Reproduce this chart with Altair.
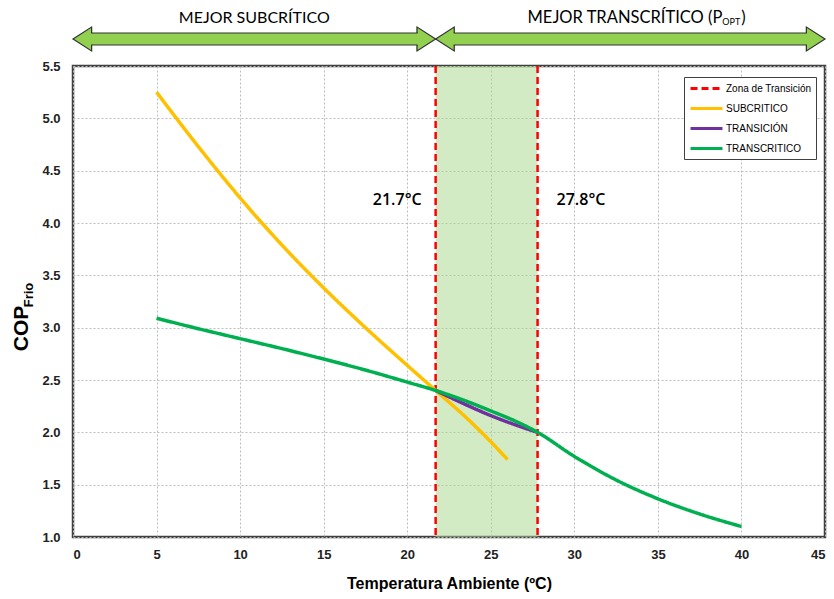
import altair as alt
import pandas as pd

# ---------------- data ----------------
series_names = ["Zona de Transición", "SUBCRITICO", "TRANSICIÓN", "TRANSCRITICO"]
series_colors = ["#FF0000", "#FFC000", "#7030A0", "#00B050"]
series_dash = [[7, 4], [1, 0], [1, 0], [1, 0]]

temp_sub = [5, 7.5, 10, 12.5, 15, 17.5, 20, 21.7, 23.5, 25, 26]
cop_sub = [5.25, 4.73, 4.24, 3.79, 3.38, 3.00, 2.64, 2.40, 2.145, 1.91, 1.74]

temp_tra = [21.7, 23.5, 25, 26.5, 27.8]
cop_tra = [2.40, 2.265, 2.16, 2.07, 2.00]

temp_trans = [5, 7.5, 10, 12.5, 15, 17.5, 20, 21.7, 23.5, 25, 26.5, 27.8, 30, 32.5, 35, 37.5, 40]
cop_trans = [3.09, 2.99, 2.895, 2.80, 2.70, 2.595, 2.48, 2.40, 2.30, 2.205, 2.105, 2.00,
             1.77, 1.545, 1.365, 1.22, 1.10]

transition_temps = [21.7, 27.8]
x_ticks = [0, 5, 10, 15, 20, 25, 30, 35, 40, 45]
y_ticks = [1.0, 1.5, 2.0, 2.5, 3.0, 3.5, 4.0, 4.5, 5.0, 5.5]

zone_start = [0, 21.7]
zone_end = [21.7, 45]
zone_texts = ["MEJOR SUBCRÍTICO", "MEJOR TRANSCRÍTICO (P"]
zone_sub_text = "OPT"

# ---------------- tables ----------------
lines_df = pd.concat([
    pd.DataFrame({"T": temp_sub, "COP": cop_sub, "serie": series_names[1]}),
    pd.DataFrame({"T": temp_tra, "COP": cop_tra, "serie": series_names[2]}),
    pd.DataFrame({"T": temp_trans, "COP": cop_trans, "serie": series_names[3]}),
], ignore_index=True)

rules_df = pd.DataFrame({"T": transition_temps, "serie": series_names[0],
                         "label": [f"{t:.1f}°C" for t in transition_temps]})
band_df = pd.DataFrame({"t1": [transition_temps[0]], "t2": [transition_temps[1]]})
zones_df = pd.DataFrame({"start": zone_start, "end": zone_end, "txt": zone_texts})
zones_df["mid"] = (zones_df["start"] + zones_df["end"]) / 2

NARROW = "Liberation Sans Narrow, Arial Narrow, Liberation Sans, sans-serif"

x_scale = alt.Scale(domain=[0, 45], nice=False, zero=False)
y_scale = alt.Scale(domain=[1.0, 5.5], nice=False, zero=False)

legend = alt.Legend(
    orient="none", legendX=611, legendY=11, title=None,
    symbolType="M-0.83,0L4.5,0", symbolSize=144, symbolStrokeWidth=3,
    labelOffset=23, rowPadding=6, padding=4,
    strokeColor="#404040", fillColor="white",
    labelFont=NARROW, labelFontSize=10, labelColor="#000000",
)
color_enc = alt.Color("serie:N", scale=alt.Scale(domain=series_names, range=series_colors), legend=legend)
dash_enc = alt.StrokeDash("serie:N", scale=alt.Scale(domain=series_names, range=series_dash), legend=legend)

x_enc = alt.X("T:Q", scale=x_scale,
              axis=alt.Axis(values=x_ticks, title="Temperatura Ambiente (ºC)", format="d"))
y_enc = alt.Y("COP:Q", scale=y_scale,
              axis=alt.Axis(values=y_ticks, format=".1f", title="COP",
                            titleX=-52, titleY=262, titleAngle=270,
                            titleAlign="center", titleBaseline="middle",
                            titleFontSize=21))

# ---------------- layers ----------------
band = alt.Chart(band_df).mark_rect(fill="#a8d88a", opacity=0.5).encode(
    x=alt.X("t1:Q", scale=x_scale), x2="t2:Q",
    y=alt.datum(5.5), y2=alt.datum(1.0))

lines = alt.Chart(lines_df).mark_line(strokeWidth=3.5, interpolate="monotone").encode(
    x=x_enc, y=y_enc, color=color_enc, strokeDash=dash_enc)

rules = alt.Chart(rules_df).mark_rule(strokeWidth=2.5).encode(
    x=alt.X("T:Q", scale=x_scale), color=color_enc, strokeDash=dash_enc)

txt_left = alt.Chart(rules_df.iloc[[0]]).mark_text(
    align="right", dx=-14, font="Open Sans", fontSize=16, fontWeight=600, color="#000000"
).encode(x=alt.X("T:Q", scale=x_scale), y=alt.datum(4.22), text="label:N")
txt_right = alt.Chart(rules_df.iloc[[1]]).mark_text(
    align="left", dx=19, font="Open Sans", fontSize=16, fontWeight=600, color="#000000"
).encode(x=alt.X("T:Q", scale=x_scale), y=alt.datum(4.22), text="label:N")

# arrows above the plot
ARROW_FILL = "#92D050"
ARROW_EDGE = "#333333"
shaft = alt.Chart(zones_df).mark_rect(fill=ARROW_FILL, xOffset=18, x2Offset=-18).encode(
    x=alt.X("start:Q", scale=x_scale), x2="end:Q", y=alt.value(-33), y2=alt.value(-21))
edge_top = alt.Chart(zones_df).mark_rule(stroke=ARROW_EDGE, strokeWidth=1.2, xOffset=18, x2Offset=-18).encode(
    x=alt.X("start:Q", scale=x_scale), x2="end:Q", y=alt.value(-33))
edge_bot = alt.Chart(zones_df).mark_rule(stroke=ARROW_EDGE, strokeWidth=1.2, xOffset=18, x2Offset=-18).encode(
    x=alt.X("start:Q", scale=x_scale), x2="end:Q", y=alt.value(-21))

HEAD_SIZE = 576
head_l_fill = alt.Chart(zones_df).mark_point(
    shape="M0,0L1.6,-1L1.6,1Z", filled=True, fill=ARROW_FILL, strokeWidth=0, opacity=1, size=HEAD_SIZE
).encode(x=alt.X("start:Q", scale=x_scale), y=alt.value(-27))
head_r_fill = alt.Chart(zones_df).mark_point(
    shape="M0,0L-1.6,-1L-1.6,1Z", filled=True, fill=ARROW_FILL, strokeWidth=0, opacity=1, size=HEAD_SIZE
).encode(x=alt.X("end:Q", scale=x_scale), y=alt.value(-27))
head_l_edge = alt.Chart(zones_df).mark_point(
    shape="M1.55,-0.5L1.55,-1L0,0L1.55,1L1.55,0.5", filled=False, stroke=ARROW_EDGE,
    strokeWidth=1.2, opacity=1, size=HEAD_SIZE
).encode(x=alt.X("start:Q", scale=x_scale), y=alt.value(-27))
head_r_edge = alt.Chart(zones_df).mark_point(
    shape="M-1.55,-0.5L-1.55,-1L0,0L-1.55,1L-1.55,0.5", filled=False, stroke=ARROW_EDGE,
    strokeWidth=1.2, opacity=1, size=HEAD_SIZE
).encode(x=alt.X("end:Q", scale=x_scale), y=alt.value(-27))

zone_txt_left = alt.Chart(zones_df.iloc[[0]]).mark_text(
    align="center", baseline="middle", font="Lato", fontSize=16, color="#000000"
).encode(x=alt.X("mid:Q", scale=x_scale), y=alt.value(-48), text="txt:N")
zone_txt_right = alt.Chart(zones_df.iloc[[1]]).mark_text(
    align="right", baseline="middle", dx=92, font="Lato", fontSize=16.5, color="#000000"
).encode(x=alt.X("mid:Q", scale=x_scale), y=alt.value(-48), text="txt:N")
zone_sub = alt.Chart(zones_df.iloc[[1]]).mark_text(
    align="left", baseline="middle", dx=92, dy=4, font="Lato", fontSize=9, color="#000000",
    text=zone_sub_text
).encode(x=alt.X("mid:Q", scale=x_scale), y=alt.value(-48))
zone_paren = alt.Chart(zones_df.iloc[[1]]).mark_text(
    align="left", baseline="middle", dx=111, font="Lato", fontSize=16.5, color="#000000", text=")"
).encode(x=alt.X("mid:Q", scale=x_scale), y=alt.value(-48))

y_sub = alt.Chart(zones_df.iloc[[0]]).mark_text(
    angle=270, align="center", baseline="middle", font=NARROW, fontSize=13,
    fontWeight="bold", color="#000000", text="Frio"
).encode(x=alt.value(-44), y=alt.value(229))

chart = alt.layer(
    band, rules, lines, txt_left, txt_right,
    shaft, head_l_fill, head_r_fill, edge_top, edge_bot, head_l_edge, head_r_edge,
    zone_txt_left, zone_txt_right, zone_sub, zone_paren, y_sub,
).properties(
    width=752, height=471,
    padding={"left": 73, "top": 66, "right": 9, "bottom": 62},
    autosize=alt.AutoSizeParams(type="none"),
    background="white",
).configure_view(
    stroke="#404040", strokeWidth=2.5
).configure_axis(
    domain=False, ticks=False, grid=True,
    gridColor="#bdbdbd", gridDash=[2, 2], gridWidth=1,
    labelFont=NARROW, labelFontSize=13, labelFontWeight="bold", labelColor="#222222",
    titleFont=NARROW, titleFontWeight="bold", titleColor="#000000",
).configure_axisX(
    labelPadding=11, titleFontSize=16, titlePadding=14,
).configure_axisY(
    labelPadding=13,
)

chart.save("out.html", embed_options={"renderer": "svg", "actions": False})
